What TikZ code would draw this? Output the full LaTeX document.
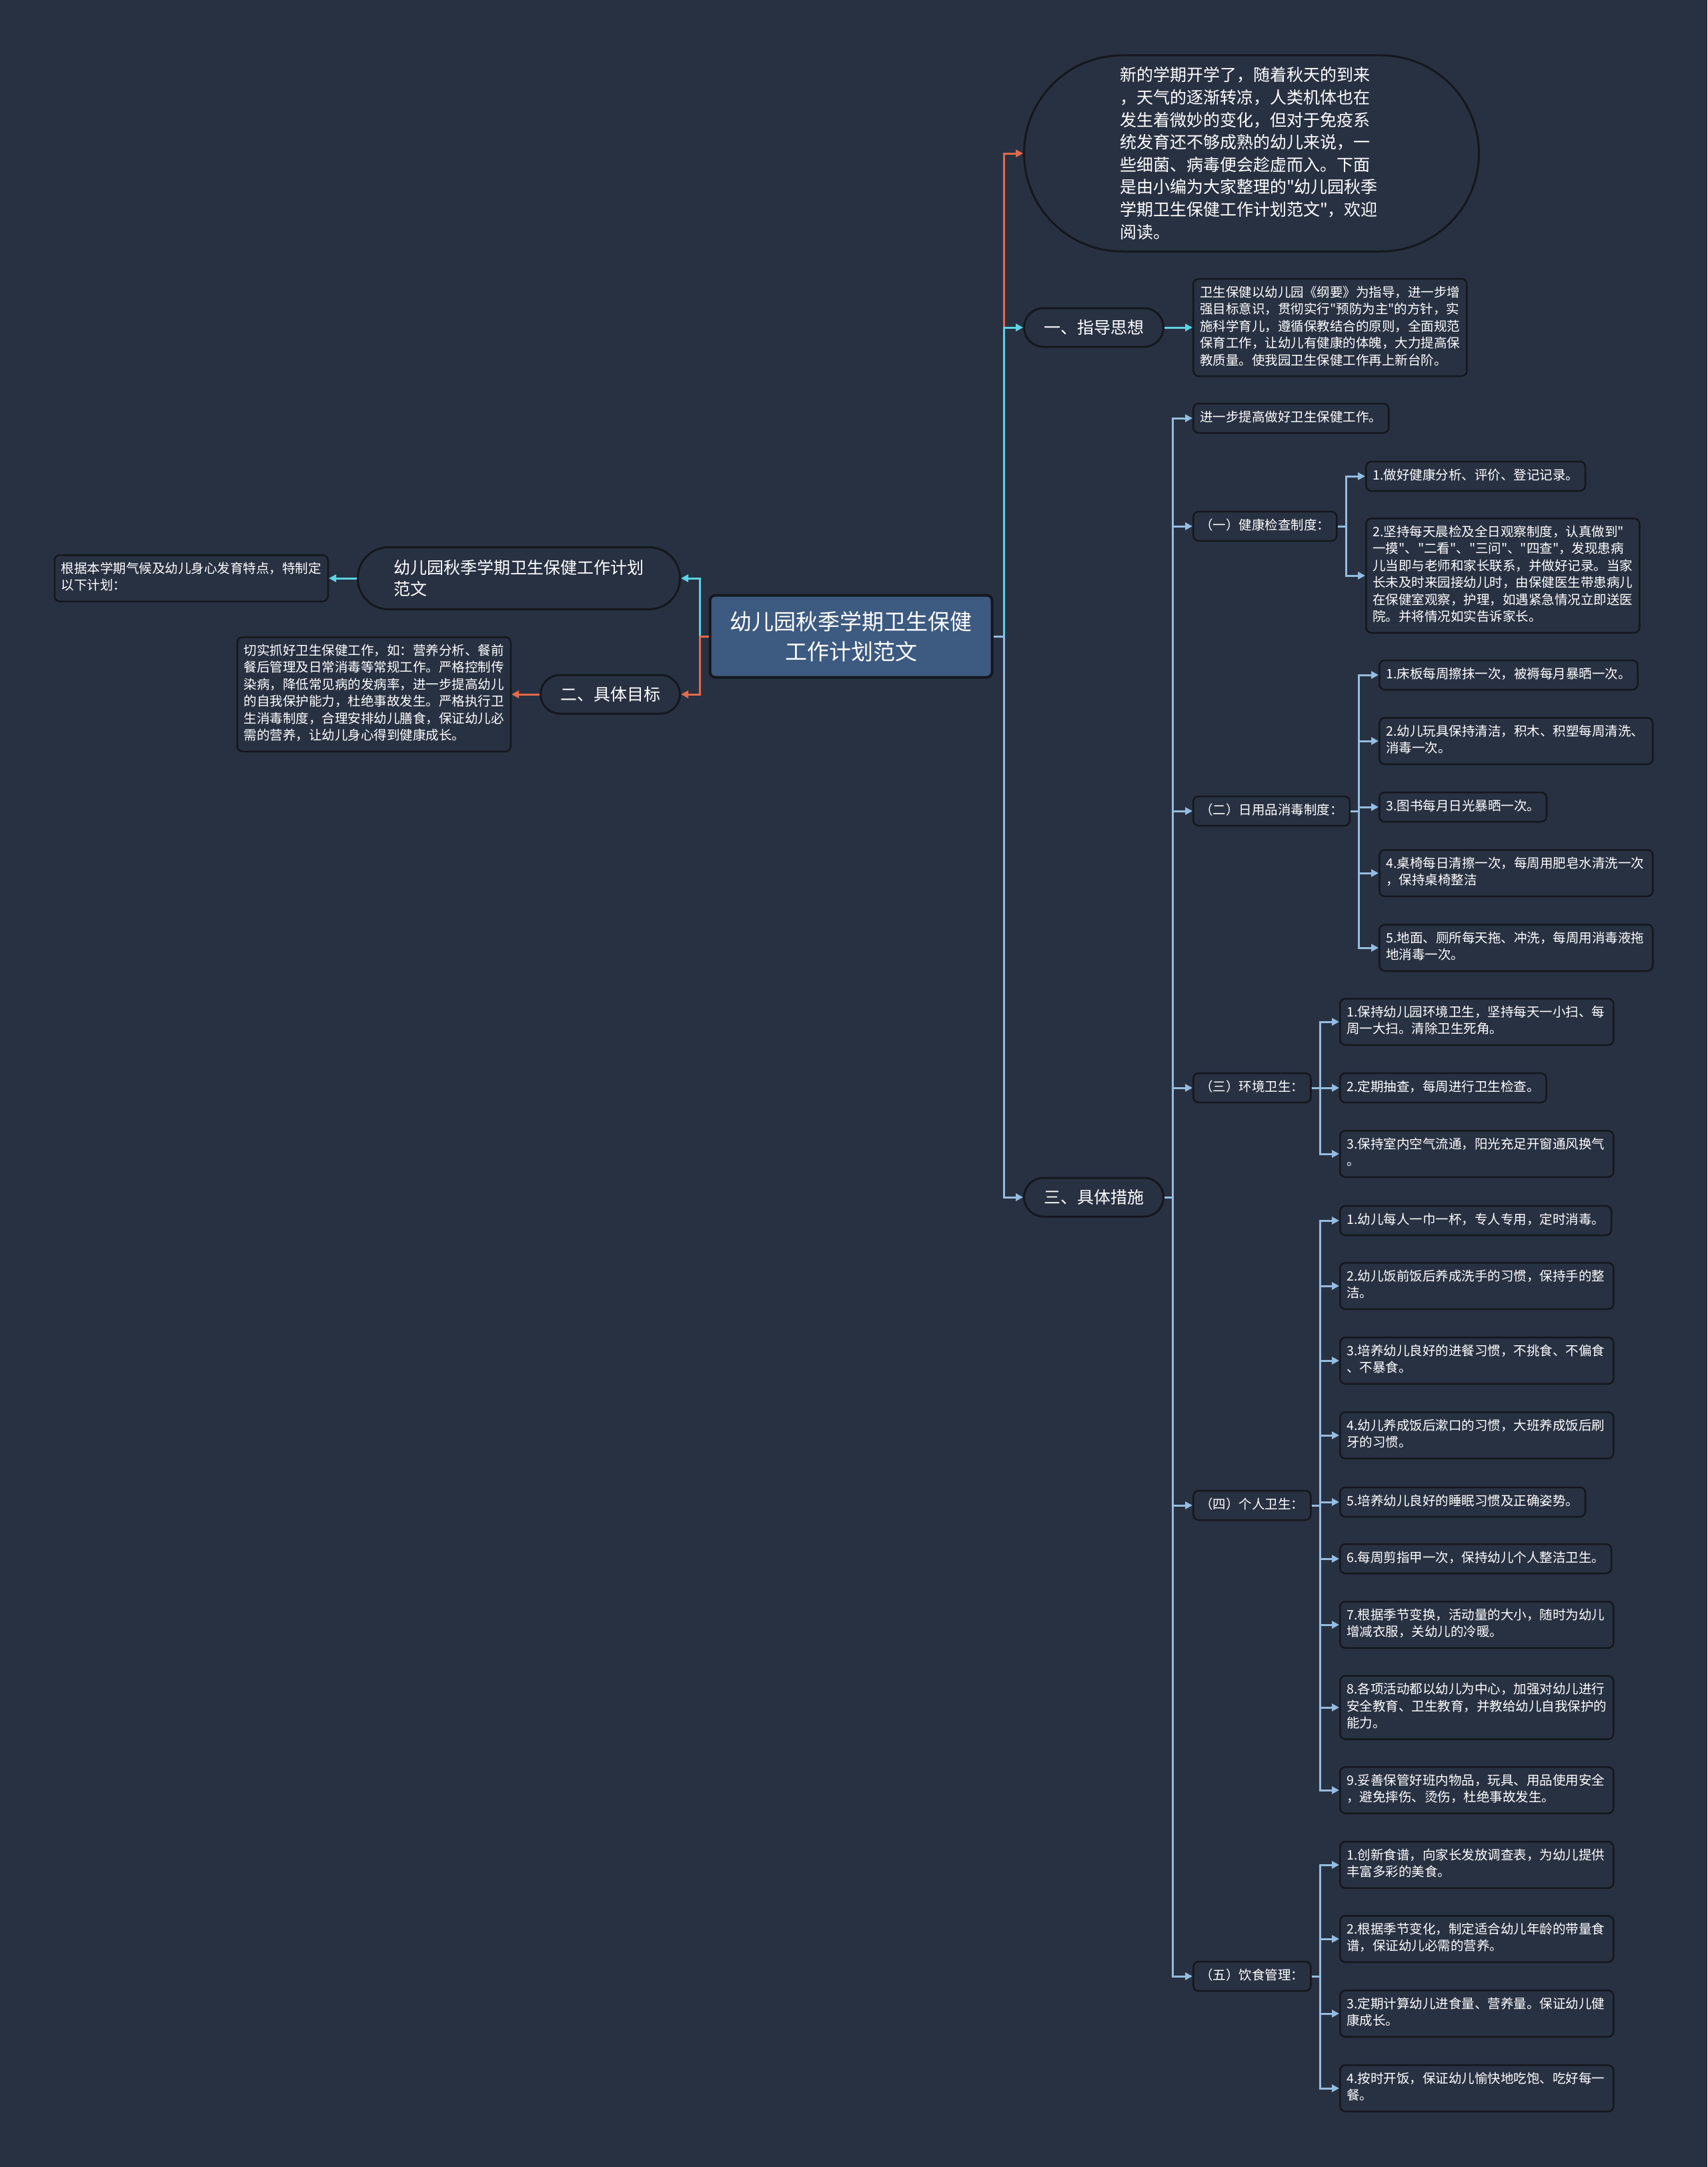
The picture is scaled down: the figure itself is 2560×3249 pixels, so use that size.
\documentclass[tikz,border=0pt]{standalone}
\usepackage{fontspec}
\setmainfont{Noto Sans CJK SC}[Ligatures=TeXOff]
\usetikzlibrary{arrows.meta}

\definecolor{bgnavy}{HTML}{283142}
\definecolor{rootblue}{HTML}{3D5A80}
\definecolor{boxline}{HTML}{14181E}
\definecolor{linkorange}{HTML}{E26A4C}
\definecolor{linkcyan}{HTML}{5DD3E4}
\definecolor{linkblue}{HTML}{94BDE0}

\begin{document}
\begin{tikzpicture}[x=1pt,y=-1pt,
    rootbox/.style={rectangle,rounded corners=8pt,draw=boxline,line width=4pt,fill=rootblue,text=white,
        align=center,minimum width=423pt,minimum height=123pt,font=\fontsize{33}{45}\selectfont},
    pill/.style={rectangle,rounded corners=29pt,draw=boxline,line width=3pt,fill=bgnavy,text=white,
        minimum width=209pt,minimum height=58pt,font=\fontsize{25}{33}\selectfont},
    bigpill/.style={rectangle,rounded corners=147pt,draw=boxline,line width=3pt,fill=bgnavy,text=white,
        inner sep=0pt,align=left,text width=395pt,minimum width=682pt,minimum height=294pt,
        font=\fontsize{25}{33.6}\selectfont},
    titlepill/.style={rectangle,rounded corners=46pt,draw=boxline,line width=3pt,fill=bgnavy,text=white,
        inner sep=0pt,align=left,text width=376pt,minimum width=483pt,minimum height=93pt,
        font=\fontsize{25}{32}\selectfont},
    leaf/.style={rectangle,rounded corners=8pt,draw=boxline,line width=2.5pt,fill=bgnavy,text=white,
        align=left,inner xsep=10pt,inner ysep=9.25pt,font=\fontsize{19.5}{25.5}\selectfont,
        execute at begin node=\strut,execute at end node=\strut},
    leafw/.style={leaf,text width=390pt},
    subhead/.style={leaf,align=center},
    conn/.style={line width=3pt,-{Triangle[length=11pt,width=11pt]}}]

    %\draw [help lines] (0,0) grid (2560,3249);
    \useasboundingbox (0,0) rectangle (2560,3249);
    \fill[bgnavy] (0,0) rectangle (2560,3249);

    \path   (1276,954)  node (root) [rootbox] {幼儿园秋季学期卫生保健\\工作计划范文}
            (1534,230)  node (intro) [bigpill,anchor=west] {新的学期开学了，随着秋天的到来\\，天气的逐渐转凉，人类机体也在\\发生着微妙的变化，但对于免疫系\\统发育还不够成熟的幼儿来说，一\\些细菌、病毒便会趁虚而入。下面\\是由小编为大家整理的"幼儿园秋季\\学期卫生保健工作计划范文"，欢迎\\阅读。}
            (1534,491)  node (guide) [pill,anchor=west] {一、指导思想}
            (1788,491)  node (guidetxt) [leafw,anchor=west] {卫生保健以幼儿园《纲要》为指导，进一步增\\强目标意识，贯彻实行"预防为主"的方针，实\\施科学育儿，遵循保教结合的原则，全面规范\\保育工作，让幼儿有健康的体魄，大力提高保\\教质量。使我园卫生保健工作再上新台阶。}
            (1534,1795) node (steps) [pill,anchor=west] {三、具体措施}
            (1021,867)  node (title) [titlepill,anchor=east] {幼儿园秋季学期卫生保健工作计划\\范文}
            (493,867)   node (titletxt) [leafw,anchor=east] {根据本学期气候及幼儿身心发育特点，特制定\\以下计划：}
            (1021,1041) node (aims) [pill,anchor=east] {二、具体目标}
            (767,1041)  node (aimstxt) [leafw,anchor=east] {切实抓好卫生保健工作，如：营养分析、餐前\\餐后管理及日常消毒等常规工作。严格控制传\\染病，降低常见病的发病率，进一步提高幼儿\\的自我保护能力，杜绝事故发生。严格执行卫\\生消毒制度，合理安排幼儿膳食，保证幼儿必\\需的营养，让幼儿身心得到健康成长。};

    % 三、具体措施
    \path   (1788,627)  node (s0) [leaf,anchor=west] {进一步提高做好卫生保健工作。}
            (1788,789)  node (s1) [subhead,anchor=west] {（一）健康检查制度：}
            (1788,1216) node (s2) [subhead,anchor=west] {（二）日用品消毒制度：}
            (1788,1631) node (s3) [subhead,anchor=west] {（三）环境卫生：}
            (1788,2257) node (s4) [subhead,anchor=west] {（四）个人卫生：}
            (1788,2963) node (s5) [subhead,anchor=west] {（五）饮食管理：};

    \path   (2047,714)  node (s1a) [leaf,anchor=west] {1.做好健康分析、评价、登记记录。}
            (2047,863)  node (s1b) [leafw,anchor=west] {2.坚持每天晨检及全日观察制度，认真做到"\\一摸"、"二看"、"三问"、"四查"，发现患病\\儿当即与老师和家长联系，并做好记录。当家\\长未及时来园接幼儿时，由保健医生带患病儿\\在保健室观察，护理，如遇紧急情况立即送医\\院。并将情况如实告诉家长。}
            (2067,1012) node (s2a) [leaf,anchor=west] {1.床板每周擦抹一次，被褥每月暴晒一次。}
            (2067,1111) node (s2b) [leafw,anchor=west] {2.幼儿玩具保持清洁，积木、积塑每周清洗、\\消毒一次。}
            (2067,1210) node (s2c) [leaf,anchor=west] {3.图书每月日光暴晒一次。}
            (2067,1309) node (s2d) [leafw,anchor=west] {4.桌椅每日清擦一次，每周用肥皂水清洗一次\\，保持桌椅整洁}
            (2067,1421) node (s2e) [leafw,anchor=west] {5.地面、厕所每天拖、冲洗，每周用消毒液拖\\地消毒一次。}
            (2008,1532) node (s3a) [leafw,anchor=west] {1.保持幼儿园环境卫生，坚持每天一小扫、每\\周一大扫。清除卫生死角。}
            (2008,1631) node (s3b) [leaf,anchor=west] {2.定期抽查，每周进行卫生检查。}
            (2008,1730) node (s3c) [leafw,anchor=west] {3.保持室内空气流通，阳光充足开窗通风换气\\。};

    \path   (2008,1830) node (s4a) [leaf,anchor=west] {1.幼儿每人一巾一杯，专人专用，定时消毒。}
            (2008,1928) node (s4b) [leafw,anchor=west] {2.幼儿饭前饭后养成洗手的习惯，保持手的整\\洁。}
            (2008,2040) node (s4c) [leafw,anchor=west] {3.培养幼儿良好的进餐习惯，不挑食、不偏食\\、不暴食。}
            (2008,2152) node (s4d) [leafw,anchor=west] {4.幼儿养成饭后漱口的习惯，大班养成饭后刷\\牙的习惯。}
            (2008,2252) node (s4e) [leaf,anchor=west] {5.培养幼儿良好的睡眠习惯及正确姿势。}
            (2008,2337) node (s4f) [leaf,anchor=west] {6.每周剪指甲一次，保持幼儿个人整洁卫生。}
            (2008,2436) node (s4g) [leafw,anchor=west] {7.根据季节变换，活动量的大小，随时为幼儿\\增减衣服，关幼儿的冷暖。}
            (2008,2560) node (s4h) [leafw,anchor=west] {8.各项活动都以幼儿为中心，加强对幼儿进行\\安全教育、卫生教育，并教给幼儿自我保护的\\能力。}
            (2008,2684) node (s4i) [leafw,anchor=west] {9.妥善保管好班内物品，玩具、用品使用安全\\，避免摔伤、烫伤，杜绝事故发生。}
            (2008,2796) node (s5a) [leafw,anchor=west] {1.创新食谱，向家长发放调查表，为幼儿提供\\丰富多彩的美食。}
            (2008,2907) node (s5b) [leafw,anchor=west] {2.根据季节变化，制定适合幼儿年龄的带量食\\谱，保证幼儿必需的营养。}
            (2008,3019) node (s5c) [leafw,anchor=west] {3.定期计算幼儿进食量、营养量。保证幼儿健\\康成长。}
            (2008,3131) node (s5d) [leafw,anchor=west] {4.按时开饭，保证幼儿愉快地吃饱、吃好每一\\餐。};

    % elbow points
    \coordinate (rtrunk) at (1505,954);
    \coordinate (ltrunk) at (1049,954);
    \coordinate (strunk) at (1758,1795);
    \coordinate (k1) at (2018,789);
    \coordinate (k2) at (2037,1216);
    \coordinate (k3) at (1979,1631);
    \coordinate (k4) at (1979,2257);
    \coordinate (k5) at (1979,2963);

    \draw[conn,linkorange] (root.east) -- (rtrunk) |- (intro.west);
    \draw[conn,linkcyan] (root.east) -- (rtrunk) |- (guide.west);
    \draw[conn,linkcyan] (guide.east) -- (guidetxt.west);
    \draw[conn,linkblue] (root.east) -- (rtrunk) |- (steps.west);
    \draw[conn,linkcyan] (root.west) -- (ltrunk) |- (title.east);
    \draw[conn,linkcyan] (title.west) -- (titletxt.east);
    \draw[conn,linkorange] (root.west) -- (ltrunk) |- (aims.east);
    \draw[conn,linkorange] (aims.west) -- (aimstxt.east);

    \draw[conn,linkblue] (steps.east) -- (strunk) |- (s0.west);
    \draw[conn,linkblue] (steps.east) -- (strunk) |- (s1.west);
    \draw[conn,linkblue] (steps.east) -- (strunk) |- (s2.west);
    \draw[conn,linkblue] (steps.east) -- (strunk) |- (s3.west);
    \draw[conn,linkblue] (steps.east) -- (strunk) |- (s4.west);
    \draw[conn,linkblue] (steps.east) -- (strunk) |- (s5.west);

    \draw[conn,linkblue] (s1.east) -- (k1) |- (s1a.west);
    \draw[conn,linkblue] (s1.east) -- (k1) |- (s1b.west);
    \draw[conn,linkblue] (s2.east) -- (k2) |- (s2a.west);
    \draw[conn,linkblue] (s2.east) -- (k2) |- (s2b.west);
    \draw[conn,linkblue] (s2.east) -- (k2) |- (s2c.west);
    \draw[conn,linkblue] (s2.east) -- (k2) |- (s2d.west);
    \draw[conn,linkblue] (s2.east) -- (k2) |- (s2e.west);
    \draw[conn,linkblue] (s3.east) -- (k3) |- (s3a.west);
    \draw[conn,linkblue] (s3.east) -- (k3) |- (s3b.west);
    \draw[conn,linkblue] (s3.east) -- (k3) |- (s3c.west);
    \draw[conn,linkblue] (s4.east) -- (k4) |- (s4a.west);
    \draw[conn,linkblue] (s4.east) -- (k4) |- (s4b.west);
    \draw[conn,linkblue] (s4.east) -- (k4) |- (s4c.west);
    \draw[conn,linkblue] (s4.east) -- (k4) |- (s4d.west);
    \draw[conn,linkblue] (s4.east) -- (k4) |- (s4e.west);
    \draw[conn,linkblue] (s4.east) -- (k4) |- (s4f.west);
    \draw[conn,linkblue] (s4.east) -- (k4) |- (s4g.west);
    \draw[conn,linkblue] (s4.east) -- (k4) |- (s4h.west);
    \draw[conn,linkblue] (s4.east) -- (k4) |- (s4i.west);
    \draw[conn,linkblue] (s5.east) -- (k5) |- (s5a.west);
    \draw[conn,linkblue] (s5.east) -- (k5) |- (s5b.west);
    \draw[conn,linkblue] (s5.east) -- (k5) |- (s5c.west);
    \draw[conn,linkblue] (s5.east) -- (k5) |- (s5d.west);
\end{tikzpicture}
\end{document}
